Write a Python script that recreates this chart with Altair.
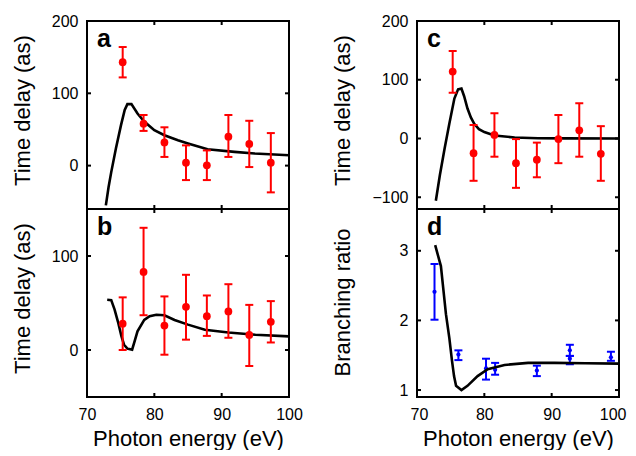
import altair as alt
import pandas as pd

FONT = "Liberation Sans"

# ---- data ----
energies = [75.3, 78.4, 81.5, 84.7, 87.8, 91.0, 94.1, 97.3]

a_val = [143, 58, 32, 4, 0.5, 40, 30, 4]
a_lo = [122, 48, 12, -20, -20, 12, -2, -37]
a_hi = [164, 70, 53, 28, 21, 70, 62, 45]

b_val = [28, 83, 26, 46, 36, 41, 16, 30]
b_lo = [0, 37, -5, 11, 15, 13, -17, 8]
b_hi = [56, 130, 57, 80, 58, 70, 48, 52]

c_val = [114, -25, 6, -42, -36, -1, 14, -26]
c_lo = [78, -72, -31, -84, -66, -42, -31, -72]
c_hi = [149, 23, 43, -1, -7, 40, 60, 21]

d_e = [72.6, 76.15, 80.25, 81.6, 87.8, 92.7, 92.7, 98.8]
d_val = [2.41, 1.51, 1.31, 1.29, 1.28, 1.57, 1.45, 1.47]
d_lo = [2.01, 1.43, 1.15, 1.22, 1.20, 1.49, 1.37, 1.42]
d_hi = [2.81, 1.57, 1.45, 1.39, 1.35, 1.65, 1.49, 1.55]

a_curve_e = [72.8, 73.2, 73.6, 74.3, 75.05, 75.6, 76.0, 76.6, 77.5, 78.5, 80.0,
             81.5, 83.5, 85.0, 87.9, 91.9, 94.9, 100.0]
a_curve_v = [-55, -30, -9, 24, 56, 77, 85, 85, 72, 61, 49,
             42, 35, 30.6, 22.7, 19, 16.7, 14.4]

b_curve_e = [73.0, 73.6, 74.1, 74.6, 75.1, 75.5, 76.0, 76.7, 77.1, 77.5, 78.5,
             79.3, 80.3, 81.5, 83.0, 85.0, 87.5, 91.0, 95.0, 100.0]
b_curve_v = [53.4, 53, 43, 30, 15, 5.6, 1.4, 0.4, 10, 19.8, 32,
             36, 37.5, 37, 32, 27, 21.6, 18.7, 16.3, 14.5]

c_curve_e = [72.8, 73.4, 74.1, 74.8, 75.55, 76.1, 76.6, 77.0, 77.5, 78.0, 78.5,
             79.2, 80.0, 81.5, 84.5, 88.0, 92.0, 100.0]
c_curve_v = [-106, -62, -17, 25, 68, 83.6, 85, 72, 51, 36, 25,
             16, 11, 5, 1.7, 0.5, 0.2, 0]

d_curve_e = [72.7, 73.55, 74.3, 74.8, 75.2, 75.5, 75.8, 76.6, 77.5, 79.0, 80.5,
             83.0, 86.5, 90.4, 95.0, 100.0]
d_curve_v = [3.08, 2.78, 2.09, 1.75, 1.42, 1.2, 1.06, 1.0, 1.06, 1.2, 1.3,
             1.36, 1.39, 1.39, 1.385, 1.38]

panel_labels = ["a", "b", "c", "d"]
x_ticks = [70, 80, 90, 100]
x_dom = [70, 100]
TD = "Time delay (as)"

W, H = 202, 188
TICK = 4  # inward tick length in px


def pts_df(e, v, lo, hi):
    return pd.DataFrame({"e": e, "v": v, "lo": lo, "hi": hi})


def curve_df(e, v):
    return pd.DataFrame({"e": e, "v": v})


def base_axis(**kw):
    d = dict(ticks=False, tickSize=0, domain=False, grid=False, labelFlush=False,
             labelFont=FONT, labelFontSize=16, labelColor="black",
             titleFont=FONT, titleFontSize=22, titleFontWeight="normal",
             titleColor="black")
    d.update(kw)
    return alt.Axis(**d)


def panel(pts, curve, ydom, yvals, ytitle, xlabels, label, color,
          ptsize, capw, barw, title_x, title_dy, line_on_top, flush):
    xs = alt.Scale(domain=x_dom, nice=False, zero=False)
    ys = alt.Scale(domain=ydom, nice=False, zero=False)
    if xlabels:
        xkw = dict(orient="bottom", values=x_ticks, labels=True,
                   labelPadding=9, title="Photon energy (eV)",
                   titleBaseline="top", titleY=31)
        if flush:
            xkw.update(labelFlush=True, labelFlushOffset=7)
        xaxis = base_axis(**xkw)
    else:
        xaxis = base_axis(orient="bottom", values=x_ticks, labels=False,
                          title=None)
    yaxis = base_axis(orient="left", values=yvals, labels=True, labelPadding=9,
                      title=ytitle, titleAngle=270, titleBaseline="bottom",
                      titleX=title_x, titleY=H / 2 + title_dy)

    X = lambda f: alt.X(f, scale=xs, axis=xaxis)
    Y = lambda f: alt.Y(f, scale=ys, axis=yaxis)

    line = alt.Chart(curve).mark_line(color="black", strokeWidth=2.6).encode(
        x=X("e:Q"), y=Y("v:Q"))
    bars = alt.Chart(pts).mark_rule(color=color, strokeWidth=barw).encode(
        x=X("e:Q"), y=Y("lo:Q"), y2="hi:Q")
    cap_lo = alt.Chart(pts).mark_tick(orient="horizontal", color=color,
                                      size=capw, thickness=barw, opacity=1).encode(
        x=X("e:Q"), y=Y("lo:Q"))
    cap_hi = alt.Chart(pts).mark_tick(orient="horizontal", color=color,
                                      size=capw, thickness=barw, opacity=1).encode(
        x=X("e:Q"), y=Y("hi:Q"))
    dots = alt.Chart(pts).mark_circle(color=color, size=ptsize, opacity=1).encode(
        x=X("e:Q"), y=Y("v:Q"))
    lab = alt.Chart(pd.DataFrame({"t": [label]})).mark_text(
        font=FONT, fontSize=25, fontWeight="bold", color="black",
        align="left", baseline="alphabetic").encode(
        text="t:N", x=alt.value(10), y=alt.value(26))

    # frame edges, placed through the scales at the domain limits
    fv = pd.DataFrame({"fe": x_dom, "fy0": [ydom[0]] * 2, "fy1": [ydom[1]] * 2})
    fh = pd.DataFrame({"fv": ydom, "fx0": [x_dom[0]] * 2, "fx1": [x_dom[1]] * 2})
    frame_v = alt.Chart(fv).mark_rule(color="black", strokeWidth=2,
                                      strokeCap="square").encode(
        x=X("fe:Q"), y=Y("fy0:Q"), y2="fy1:Q")
    frame_h = alt.Chart(fh).mark_rule(color="black", strokeWidth=2,
                                      strokeCap="square").encode(
        y=Y("fv:Q"), x=X("fx0:Q"), x2="fx1:Q")

    # inward ticks on all four sides
    dy = (ydom[1] - ydom[0]) * TICK / H
    dx = (x_dom[1] - x_dom[0]) * TICK / W
    n = len(x_ticks)
    xt = pd.DataFrame({"te": x_ticks * 2,
                       "ty0": [ydom[0]] * n + [ydom[1] - dy] * n,
                       "ty1": [ydom[0] + dy] * n + [ydom[1]] * n})
    m = len(yvals)
    yt = pd.DataFrame({"tv": yvals * 2,
                       "tx0": [x_dom[0]] * m + [x_dom[1] - dx] * m,
                       "tx1": [x_dom[0] + dx] * m + [x_dom[1]] * m})
    xticks = alt.Chart(xt).mark_rule(color="black", strokeWidth=2).encode(
        x=X("te:Q"), y=Y("ty0:Q"), y2="ty1:Q")
    yticks = alt.Chart(yt).mark_rule(color="black", strokeWidth=2).encode(
        y=Y("tv:Q"), x=X("tx0:Q"), x2="tx1:Q")

    if line_on_top:
        layers = [bars, cap_lo, cap_hi, dots, line]
    else:
        layers = [line, bars, cap_lo, cap_hi, dots]
    layers += [xticks, yticks, frame_v, frame_h, lab]
    return alt.layer(*layers).properties(width=W, height=H)


pa = panel(pts_df(energies, a_val, a_lo, a_hi), curve_df(a_curve_e, a_curve_v),
           [-60, 200], [0, 100, 200], TD, False, panel_labels[0], "#ff0000",
           60, 8, 2, -53, -5, False, False)
pb = panel(pts_df(energies, b_val, b_lo, b_hi), curve_df(b_curve_e, b_curve_v),
           [-50, 150], [0, 100], TD, True, panel_labels[1], "#ff0000",
           60, 8, 2, -53, -5, False, False)
pc = panel(pts_df(energies, c_val, c_lo, c_hi), curve_df(c_curve_e, c_curve_v),
           [-120, 200], [-100, 0, 100, 200], TD, False, panel_labels[2], "#ff0000",
           60, 8, 2, -63, -5, False, False)
pd_ = panel(pts_df(d_e, d_val, d_lo, d_hi), curve_df(d_curve_e, d_curve_v),
            [0.9, 3.6], [1, 2, 3], "Branching ratio", True, panel_labels[3], "#0000ff",
            18, 8, 2, -63, -1, True, True)

chart = alt.concat(pa, pc, pb, pd_, columns=2,
                   spacing={"row": 0, "column": 128},
                   bounds="flush").properties(
    padding={"left": 2, "top": 4, "right": 0, "bottom": 0},
    background="white",
).configure(font=FONT).configure_view(stroke="black", strokeWidth=2)

chart.save("out.html", embed_options={"renderer": "svg", "actions": False})
